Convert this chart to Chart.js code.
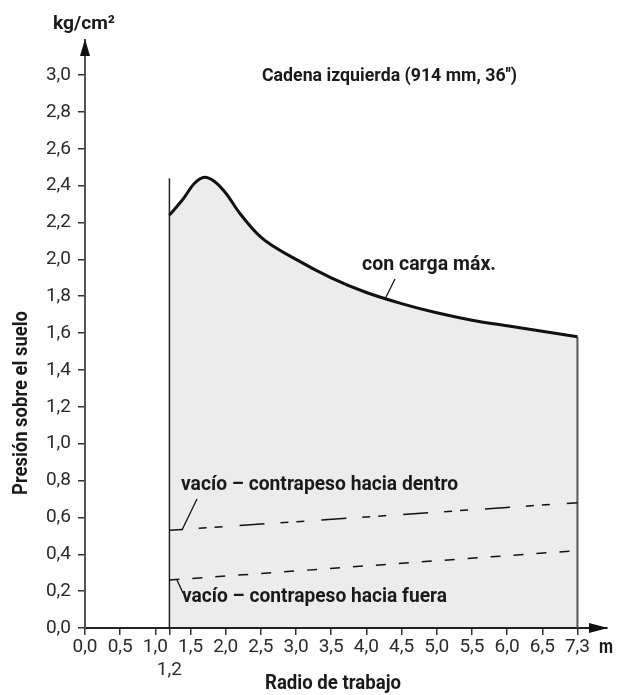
<!DOCTYPE html>
<html>
<head>
<meta charset="utf-8">
<script src="https://cdn.jsdelivr.net/npm/chart.js@4"></script>
<style>
  html, body { margin: 0; padding: 0; background: #fff; }
  #wrap { width: 617px; height: 695px; }
</style>
</head>
<body>
<div id="wrap"><canvas id="chart"></canvas></div>
<script>
// radius (m) and ground pressure (kg/cm2)
const radius = [1.2, 1.4, 1.55, 1.7, 1.85, 2.0, 2.2, 2.5, 3.0, 3.5, 4.0, 4.5, 5.0, 5.5, 6.0, 6.5, 7.3];
const maxLoad = [2.24, 2.33, 2.41, 2.445, 2.42, 2.36, 2.25, 2.12, 2.0, 1.9, 1.82, 1.76, 1.71, 1.67, 1.64, 1.61, 1.58];

const emptyRadius = [1.2, 7.3];
const emptyInside = [0.53, 0.68];
const emptyOutside = [0.26, 0.42];

const edgeLeft = [0, 2.44];   // line at 1,2 m
const edgeRight = [0, 1.58];  // line at 7,3 m

const xTickValues = [0, 0.5, 1.0, 1.2, 1.5, 2.0, 2.5, 3.0, 3.5, 4.0, 4.5, 5.0, 5.5, 6.0, 6.5, 7.3];
const yTickValues = [0, 0.2, 0.4, 0.6, 0.8, 1.0, 1.2, 1.4, 1.6, 1.8, 2.0, 2.2, 2.4, 2.6, 2.8, 3.0];

const LABEL_FONT = "Roboto, sans-serif";

// the drawing squeezes the last step (6,5 -> 7,3) into one half-metre slot
function axisPos(r) {
  return r <= 6.5 ? r : 6.5 + (r - 6.5) * 0.5 / 0.8;
}

function fmt(v) {
  return v.toFixed(1).replace(".", ",");
}

function pts(xs, ys) {
  return xs.map((x, i) => ({ x: axisPos(x), y: ys[i] }));
}

function fitText(ctx, text, x, y, w, size) {
  ctx.save();
  ctx.font = "bold " + size + "px " + LABEL_FONT;
  const m = ctx.measureText(text).width;
  ctx.translate(x, y);
  ctx.scale(w / m, 1);
  ctx.fillText(text, 0, 0);
  ctx.restore();
}

function line(ctx, x1, y1, x2, y2) {
  ctx.beginPath();
  ctx.moveTo(x1, y1);
  ctx.lineTo(x2, y2);
  ctx.stroke();
}

const annotations = {
  id: "annotations",
  afterDraw(chart) {
    const ctx = chart.ctx;
    const a = chart.chartArea;
    ctx.save();
    ctx.textBaseline = "alphabetic";
    ctx.textAlign = "left";

    // axis arrows
    ctx.fillStyle = "#111";
    ctx.beginPath();
    ctx.moveTo(a.left, a.top - 1);
    ctx.lineTo(a.left - 5, a.top + 16);
    ctx.lineTo(a.left + 5, a.top + 16);
    ctx.closePath();
    ctx.fill();
    ctx.beginPath();
    ctx.moveTo(a.right + 1, a.bottom);
    ctx.lineTo(a.right - 18, a.bottom - 5);
    ctx.lineTo(a.right - 18, a.bottom + 5);
    ctx.closePath();
    ctx.fill();

    ctx.fillStyle = "#1a1a1a";
    fitText(ctx, "kg/cm²", 53, 29, 62, 19);
    fitText(ctx, "Cadena izquierda (914 mm, 36'')", 262, 81, 255, 19);
    fitText(ctx, "con carga máx.", 362, 270, 134, 20);
    fitText(ctx, "vacío – contrapeso hacia dentro", 181, 490, 277, 20);
    fitText(ctx, "vacío – contrapeso hacia fuera", 182, 602, 265, 20);
    fitText(ctx, "Radio de trabajo", 265, 689, 136, 20);
    fitText(ctx, "m", 599, 653, 14, 21);

    ctx.save();
    ctx.translate(27, 495);
    ctx.rotate(-Math.PI / 2);
    fitText(ctx, "Presión sobre el suelo", 0, 0, 184, 20);
    ctx.restore();

    // leader strokes
    ctx.strokeStyle = "#111";
    ctx.lineWidth = 1.3;
    line(ctx, 395, 279, 385, 299);
    line(ctx, 197, 499, 182, 530);
    line(ctx, 177, 580, 183, 593);
    ctx.restore();
  }
};

new Chart(document.getElementById("chart"), {
  type: "line",
  data: {
    datasets: [
      {
        label: "con carga máx.",
        data: pts(radius, maxLoad),
        borderColor: "#111",
        borderWidth: 3,
        fill: "origin",
        backgroundColor: "#ebeceb",
        pointRadius: 0,
        cubicInterpolationMode: "monotone",
        borderJoinStyle: "round",
      },
      {
        label: "vacío – contrapeso hacia dentro",
        data: pts(emptyRadius, emptyInside),
        borderColor: "#111",
        borderWidth: 1.5,
        borderDash: [25, 16, 8, 8, 8, 17],
        borderDashOffset: 11.7,
        pointRadius: 0,
        fill: false,
      },
      {
        label: "vacío – contrapeso hacia fuera",
        data: pts(emptyRadius, emptyOutside),
        borderColor: "#111",
        borderWidth: 1.5,
        borderDash: [10, 13],
        pointRadius: 0,
        fill: false,
      },
      {
        label: "edge left",
        data: pts([1.2, 1.2], edgeLeft),
        borderColor: "#222",
        borderWidth: 1.5,
        pointRadius: 0,
        fill: false,
      },
      {
        label: "edge right",
        data: pts([7.3, 7.3], edgeRight),
        borderColor: "#555",
        borderWidth: 2,
        pointRadius: 0,
        fill: false,
      },
    ],
  },
  options: {
    animation: false,
    responsive: true,
    maintainAspectRatio: false,
    layout: { padding: { top: 40, right: 10, left: 0, bottom: 0 } },
    plugins: {
      legend: { display: false },
      tooltip: { enabled: false },
      filler: { drawTime: "beforeDraw" },
    },
    scales: {
      x: {
        type: "linear",
        min: 0,
        max: 7.42,
        afterBuildTicks: (s) => {
          s.ticks = xTickValues.map((v) => ({ value: axisPos(v) }));
        },
        afterFit: (s) => {
          s.height = 67;
        },
        border: { display: true, color: "#222", width: 2 },
        grid: { drawOnChartArea: false, drawTicks: true, tickLength: 7, color: "#333", lineWidth: 1.5 },
        ticks: {
          autoSkip: false,
          maxRotation: 0,
          padding: 0,
          color: "#2a2a2a",
          font: { family: "Roboto", size: 19, lineHeight: 1.25 },
          callback: (val, i) => (xTickValues[i] === 1.2 ? ["", fmt(1.2)] : fmt(xTickValues[i])),
        },
      },
      y: {
        min: 0,
        max: 3.19,
        afterBuildTicks: (s) => {
          s.ticks = yTickValues.map((v) => ({ value: v }));
        },
        afterFit: (s) => {
          s.width = 85;
        },
        border: { display: true, color: "#555", width: 2 },
        grid: { drawOnChartArea: false, drawTicks: true, tickLength: 7, color: "#333", lineWidth: 1.5 },
        ticks: {
          autoSkip: false,
          padding: 7,
          color: "#2a2a2a",
          font: { family: "Roboto", size: 19 },
          callback: (val) => fmt(val),
        },
      },
    },
  },
  plugins: [annotations],
});
</script>
</body>
</html>
